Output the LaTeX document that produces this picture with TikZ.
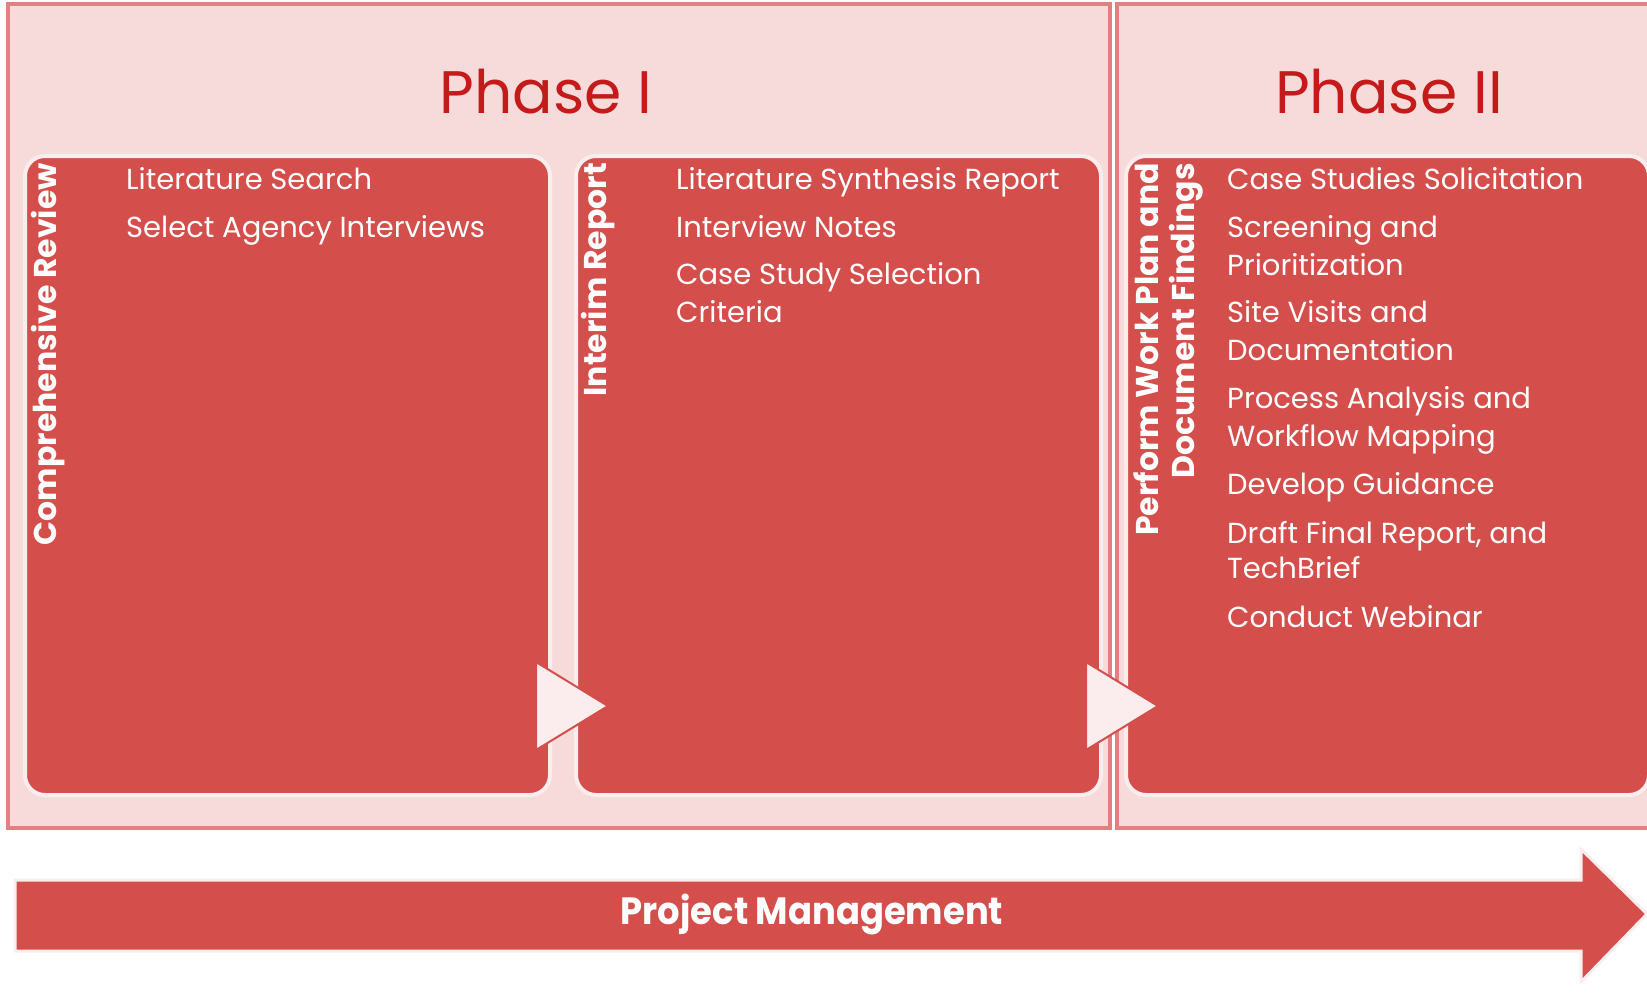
\documentclass[tikz,border=0pt]{standalone}
\usepackage{fontspec}
\setmainfont{Poppins}
\usetikzlibrary{calc}
\definecolor{boxred}{HTML}{D44F4B}
\definecolor{paleband}{HTML}{F7DBDB}
\definecolor{frameline}{HTML}{E08080}
\definecolor{titlered}{HTML}{C41A1A}
\definecolor{glow}{HTML}{FBEDED}
\begin{document}
\begin{tikzpicture}[x=1pt,y=-1pt,
  phaseframe/.style={draw=frameline,line width=4pt,fill=paleband},
  stagebox/.style={draw=glow,line width=4pt,fill=boxred,rounded corners=20pt,inner sep=0pt,anchor=north west},
  itemtext/.style={text=white,font=\fontsize{29}{35}\selectfont,anchor=west,inner sep=0pt,text height=20pt,text depth=0pt},
  vlabel/.style={text=white,font=\bfseries\fontsize{31.5}{36}\selectfont,rotate=90,anchor=east,inner sep=0pt,align=right},
  phasetitle/.style={text=titlered,font=\fontsize{60}{70}\selectfont,inner sep=0pt},
  flowtri/.style={fill=glow,draw=boxred,line width=2pt,line join=miter}]
\useasboundingbox (0,0) rectangle (1647,993);
\begin{scope}
\clip (0,0) rectangle (1647,993);
% phase frames
\draw[phaseframe] (8,4) rectangle (1110,828);
\draw[phaseframe] (1117,4) rectangle (1670,828);
\node[phasetitle] (p1) at (546,92) {Phase I};
\node[phasetitle] (p2) at (1389,92) {Phase II};
% stage boxes
\node[stagebox,minimum width=525pt,minimum height=639pt] (b1) at (23,154) {};
\node[stagebox,minimum width=525pt,minimum height=639pt] (b2) at (574,154) {};
\node[stagebox,minimum width=523pt,minimum height=639pt] (b3) at (1124,154) {};
% flow triangles
\filldraw[flowtri] (536,662) -- (608,706) -- (536,750) -- cycle;
\filldraw[flowtri] (1086,662) -- (1158,706) -- (1086,750) -- cycle;
% vertical labels
\node[vlabel] (l1) at (48,163) {Comprehensive Review};
\node[vlabel] (l2) at (598,163) {Interim Report};
\node[vlabel] (l3) at (1168,163) {Perform Work Plan and\\Document Findings};
% items box 1
\node[itemtext] (a1) at (126,179) {Literature Search};
\node[itemtext] (a2) at (126,227) {Select Agency Interviews};
% items box 2
\node[itemtext] (c1) at (676,179) {Literature Synthesis Report};
\node[itemtext] (c2) at (676,227) {Interview Notes};
\node[itemtext] (c3) at (676,274) {Case Study Selection};
\node[itemtext] (c4) at (676,312) {Criteria};
% items box 3
\node[itemtext] (d1) at (1227,179) {Case Studies Solicitation};
\node[itemtext] (d2) at (1227,227) {Screening and};
\node[itemtext] (d3) at (1227,265) {Prioritization};
\node[itemtext] (d4) at (1227,312) {Site Visits and};
\node[itemtext] (d5) at (1227,350) {Documentation};
\node[itemtext] (d6) at (1227,398) {Process Analysis and};
\node[itemtext] (d7) at (1227,436) {Workflow Mapping};
\node[itemtext] (d8) at (1227,484) {Develop Guidance};
\node[itemtext] (d9) at (1227,533) {Draft Final Report, and};
\node[itemtext] (d10) at (1227,568) {TechBrief};
\node[itemtext] (d11) at (1227,617) {Conduct Webinar};
% project management arrow
\filldraw[fill=boxred,draw=glow,line width=3pt,line join=miter]
  (15,880) -- (1581,880) -- (1581,849) -- (1647,914) -- (1581,982) -- (1581,951) -- (15,951) -- cycle;
\node[text=white,font=\bfseries\fontsize{38}{44}\selectfont,inner sep=0pt] (pm) at (812,914) {\scalebox{0.93}[1]{Project Management}};
\end{scope}
\end{tikzpicture}
\end{document}
